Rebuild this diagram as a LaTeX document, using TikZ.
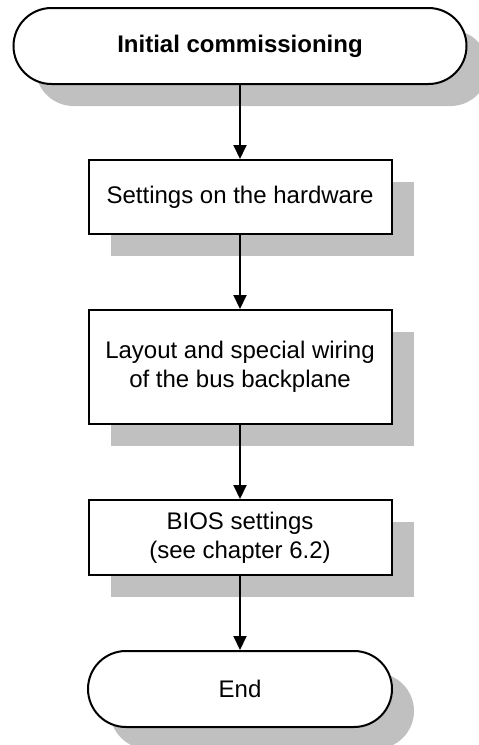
\documentclass[tikz,border=0pt]{standalone}
\usepackage{fontspec}
\setmainfont{Liberation Sans}
\usetikzlibrary{positioning}
\usetikzlibrary{shadows}
\usetikzlibrary{arrows.meta}
\definecolor{shadowgray}{RGB}{192,192,192}

\begin{document}
\begin{tikzpicture}[
    x=1pt, y=-1pt,
    node distance=74pt,
    font=\fontsize{24}{29}\selectfont,
    boxshadow/.style={
        drop shadow={shadow xshift=22pt, shadow yshift=-22pt,
                     fill=shadowgray, opacity=1}
    },
    box/.style={
        draw,
        line width=2pt,
        fill=white,
        boxshadow,
        minimum width=303pt,
        align=center
    },
    terminal/.style={
        box,
        rounded corners=38pt,
        minimum height=76pt
    }
]
\useasboundingbox (0,0) rectangle (479,745);

% Main nodes
\node[terminal, minimum width=453pt] (start) at (240,46) {\textbf{Initial commissioning}};

\node[box, minimum height=74pt, below=of start] (hardware) {Settings on the hardware};

\node[box, minimum height=114pt, below=of hardware] (backplane) {
    Layout and special wiring \\
    of the bus backplane
};

\node[box, minimum height=75pt, below=of backplane] (bios) {
    BIOS settings \\
    (see chapter 6.2)
};

\node[terminal, minimum width=304pt, below=of bios] (end) {End};

% Arrows
\draw[-{Triangle[width=13pt,length=14pt]}, line width=2pt] (start) -- (hardware);
\draw[-{Triangle[width=13pt,length=14pt]}, line width=2pt] (hardware) -- (backplane);
\draw[-{Triangle[width=13pt,length=14pt]}, line width=2pt] (backplane) -- (bios);
\draw[-{Triangle[width=13pt,length=14pt]}, line width=2pt] (bios) -- (end);

\end{tikzpicture}
\end{document}
